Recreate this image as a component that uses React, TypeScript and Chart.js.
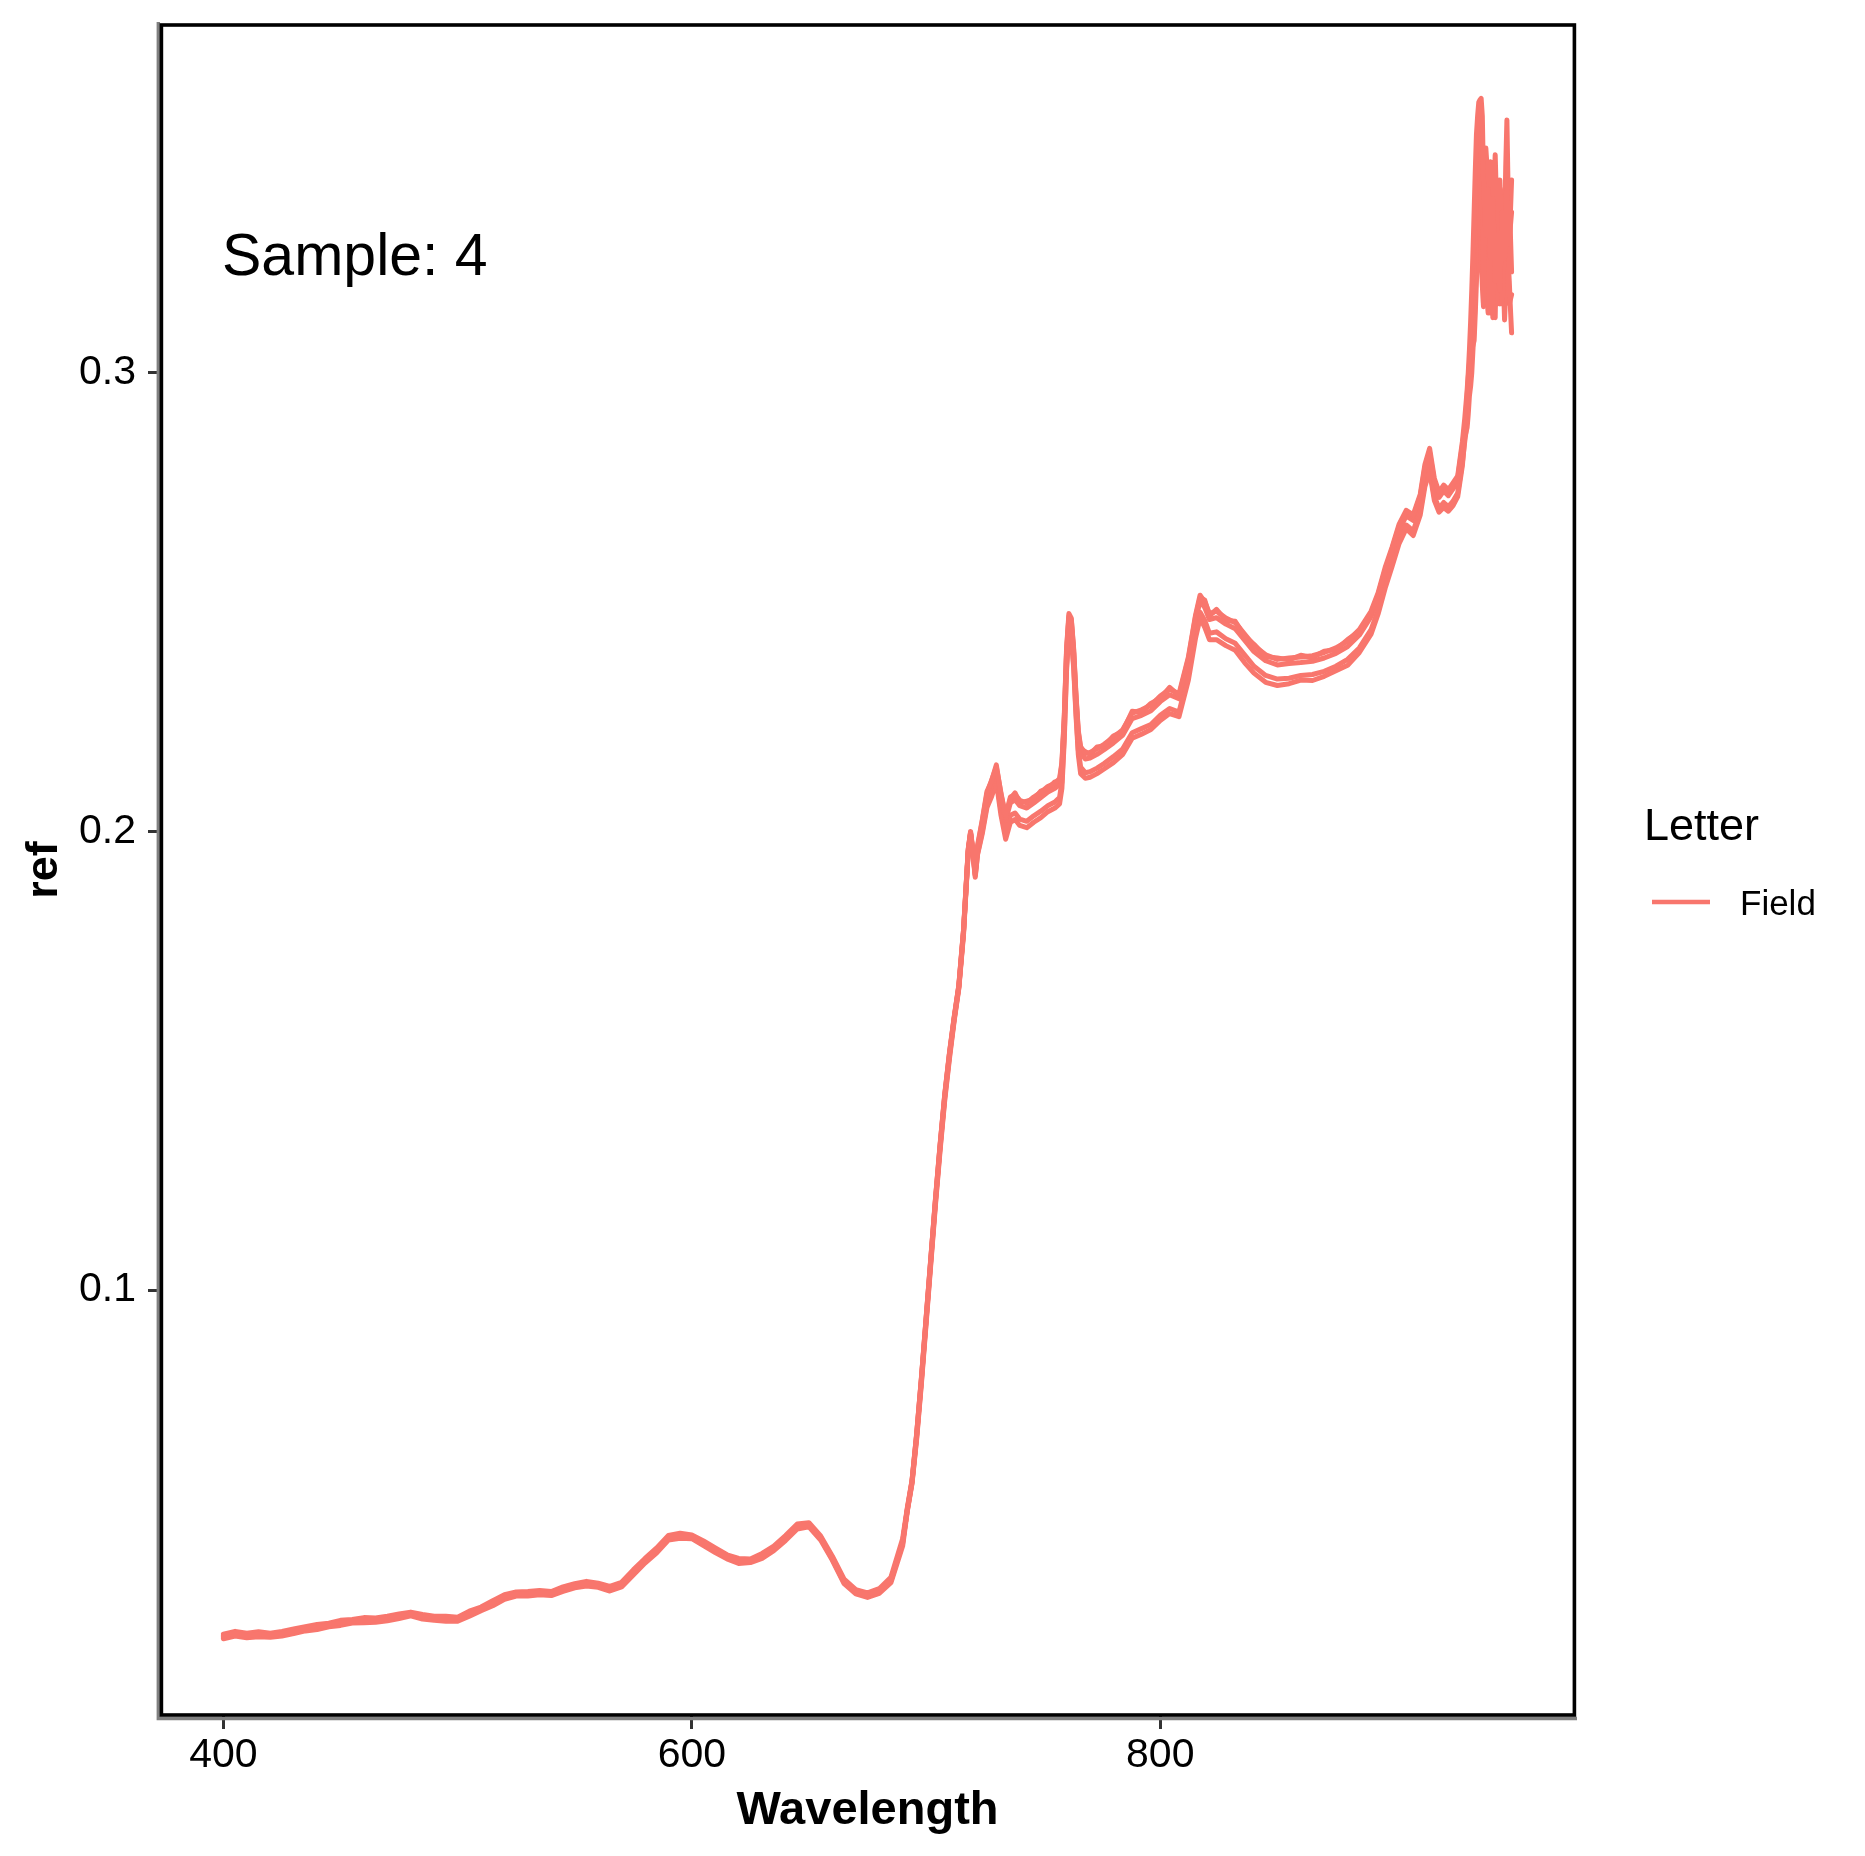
import React, { useEffect, useRef } from "react";
import { Chart, registerables } from "chart.js";

Chart.register(...registerables);

// ---------- data ----------
const wavelengths = [
  400, 405, 410, 415, 420, 425, 430, 435, 440, 445, 450, 455, 460, 465, 470, 475, 480, 485, 490, 495,
  500, 505, 510, 515, 520, 525, 530, 535, 540, 545, 550, 555, 560, 565, 570, 575, 580, 585, 590, 595,
  600, 605, 610, 615, 620, 625, 630, 635, 640, 645, 650, 655, 660, 665, 670, 675, 680, 685, 690,
  692, 694, 696, 698, 700, 702, 704, 706, 708, 710, 712, 714, 716, 718,
  719, 720, 721, 722,
  724, 726, 728, 730, 732, 734, 736, 738, 740,
  743, 746, 749, 752, 755,
  757, 758, 759, 760, 761, 762, 763, 764, 765, 766,
  768, 770,
  773, 776,
  780, 784, 788, 792, 796, 800, 804, 808, 812,
  815, 817, 819, 821,
  824, 828, 832, 836, 840,
  845, 850, 855, 860, 865, 870, 875, 880, 885, 890,
  893, 896, 899, 902, 905, 908, 911,
  913, 915, 917, 919, 921, 923, 925, 927, 929,
  930, 930.5, 931, 931.5, 932, 932.5, 933, 933.5, 934, 934.5, 935, 935.5, 936, 936.5, 937, 937.5, 938, 938.5, 939, 939.5,
  940, 940.5, 941, 941.5, 942, 942.5, 943, 943.5, 944, 944.5, 945, 945.5, 946, 946.5, 947, 947.5, 948, 948.5, 949, 949.5, 950,
];

const spectrum1 = [
  0.0245, 0.0252, 0.0246, 0.0250, 0.0247, 0.0251, 0.0257, 0.0261, 0.0266, 0.0270, 0.0275, 0.0278, 0.0281, 0.0280, 0.0284, 0.0290, 0.0294, 0.0288, 0.0284, 0.0284,
  0.0282, 0.0295, 0.0305, 0.0318, 0.0332, 0.0337, 0.0338, 0.0340, 0.0339, 0.0348, 0.0355, 0.0361, 0.0356, 0.0349, 0.0358, 0.0385, 0.0410, 0.0433, 0.0460, 0.0465,
  0.0462, 0.0448, 0.0433, 0.0418, 0.0410, 0.0410, 0.0421, 0.0437, 0.0460, 0.0485, 0.0488, 0.0460, 0.0415, 0.0365, 0.0342, 0.0335, 0.0344, 0.0368, 0.0450,
  0.0521, 0.0580, 0.0680, 0.0800, 0.0930, 0.1060, 0.1190, 0.1310, 0.1420, 0.1510, 0.1590, 0.1660, 0.1780, 0.1960,
  0.2000, 0.1960, 0.1910, 0.1970,
  0.2025, 0.2087, 0.2110, 0.2145, 0.2080, 0.2035, 0.2075, 0.2080, 0.2068,
  0.2062, 0.2075, 0.2085, 0.2098, 0.2105,
  0.2115, 0.2150, 0.2250, 0.2400, 0.2475, 0.2465, 0.2400, 0.2300, 0.2220, 0.2185,
  0.2170, 0.2172,
  0.2180, 0.2190,
  0.2205, 0.2222, 0.2258, 0.2265, 0.2275, 0.2295, 0.2310, 0.2300, 0.2380,
  0.2470, 0.2515, 0.2500, 0.2475,
  0.2480, 0.2465, 0.2455, 0.2430, 0.2405,
  0.2385, 0.2375, 0.2378, 0.2380, 0.2383, 0.2390, 0.2400, 0.2415, 0.2440, 0.2480,
  0.2520, 0.2575, 0.2620, 0.2670, 0.2700, 0.2690, 0.2735,
  0.2800, 0.2835, 0.2770, 0.2740, 0.2755, 0.2745, 0.2760, 0.2775, 0.2850,
  0.2900, 0.2930, 0.2960, 0.3000, 0.3050, 0.3110, 0.3180, 0.3260, 0.3350, 0.3440, 0.3520, 0.3560, 0.3590, 0.3595, 0.3598, 0.3560, 0.3420, 0.3360, 0.3300, 0.3380,
  0.3400, 0.3300, 0.3250, 0.3330, 0.3380, 0.3280, 0.3200, 0.3260, 0.3300, 0.3220, 0.3180, 0.3280, 0.3350, 0.3300, 0.3250, 0.3350, 0.3420, 0.3330, 0.3280, 0.3320, 0.3350,
];

const spectrum2 = [
  0.0240, 0.0246, 0.0242, 0.0244, 0.0243, 0.0246, 0.0251, 0.0257, 0.0260, 0.0266, 0.0269, 0.0274, 0.0275, 0.0276, 0.0279, 0.0284, 0.0290, 0.0283, 0.0280, 0.0278,
  0.0278, 0.0289, 0.0301, 0.0312, 0.0326, 0.0333, 0.0333, 0.0336, 0.0334, 0.0343, 0.0351, 0.0355, 0.0352, 0.0344, 0.0353, 0.0379, 0.0405, 0.0427, 0.0455, 0.0459,
  0.0458, 0.0443, 0.0428, 0.0414, 0.0404, 0.0406, 0.0415, 0.0432, 0.0454, 0.0479, 0.0484, 0.0455, 0.0411, 0.0360, 0.0338, 0.0330, 0.0339, 0.0362, 0.0442,
  0.0518, 0.0578, 0.0676, 0.0795, 0.0925, 0.1055, 0.1185, 0.1305, 0.1415, 0.1505, 0.1587, 0.1658, 0.1775, 0.1955,
  0.1995, 0.1958, 0.1913, 0.1966,
  0.2022, 0.2082, 0.2112, 0.2140, 0.2084, 0.2030, 0.2071, 0.2084, 0.2062,
  0.2066, 0.2070, 0.2088, 0.2093, 0.2108,
  0.2110, 0.2146, 0.2244, 0.2395, 0.2470, 0.2462, 0.2396, 0.2296, 0.2216, 0.2180,
  0.2174, 0.2168,
  0.2184, 0.2186,
  0.2208, 0.2218, 0.2262, 0.2260, 0.2279, 0.2290, 0.2314, 0.2296, 0.2376,
  0.2466, 0.2510, 0.2504, 0.2470,
  0.2484, 0.2460, 0.2458, 0.2426, 0.2408,
  0.2381, 0.2378, 0.2374, 0.2384, 0.2379, 0.2393, 0.2396, 0.2418, 0.2436, 0.2476,
  0.2516, 0.2570, 0.2616, 0.2666, 0.2696, 0.2686, 0.2730,
  0.2794, 0.2826, 0.2764, 0.2736, 0.2750, 0.2741, 0.2755, 0.2770, 0.2842,
  0.2880, 0.2900, 0.2920, 0.2960, 0.3000, 0.3050, 0.3100, 0.3180, 0.3250, 0.3330, 0.3400, 0.3460, 0.3500, 0.3540, 0.3560, 0.3400, 0.3150, 0.3300, 0.3490, 0.3450,
  0.3350, 0.3420, 0.3460, 0.3380, 0.3300, 0.3400, 0.3475, 0.3380, 0.3250, 0.3320, 0.3420, 0.3300, 0.3150, 0.3220, 0.3300, 0.3450, 0.3551, 0.3400, 0.3300, 0.3350, 0.3420,
];

const spectrum3 = [
  0.0250, 0.0256, 0.0252, 0.0255, 0.0252, 0.0256, 0.0261, 0.0266, 0.0271, 0.0274, 0.0280, 0.0282, 0.0286, 0.0285, 0.0289, 0.0294, 0.0298, 0.0293, 0.0289, 0.0289,
  0.0287, 0.0300, 0.0309, 0.0323, 0.0336, 0.0342, 0.0343, 0.0345, 0.0343, 0.0353, 0.0360, 0.0365, 0.0361, 0.0354, 0.0363, 0.0390, 0.0415, 0.0438, 0.0465, 0.0470,
  0.0466, 0.0453, 0.0438, 0.0423, 0.0415, 0.0414, 0.0426, 0.0442, 0.0465, 0.0490, 0.0493, 0.0464, 0.0420, 0.0370, 0.0347, 0.0340, 0.0349, 0.0374, 0.0458,
  0.0525, 0.0585, 0.0686, 0.0806, 0.0936, 0.1066, 0.1196, 0.1316, 0.1426, 0.1515, 0.1594, 0.1664, 0.1785, 0.1962,
  0.1998, 0.1955, 0.1906, 0.1962,
  0.2015, 0.2076, 0.2100, 0.2135, 0.2068, 0.2024, 0.2062, 0.2069, 0.2056,
  0.2051, 0.2062, 0.2074, 0.2086, 0.2094,
  0.2102, 0.2138, 0.2238, 0.2388, 0.2465, 0.2455, 0.2390, 0.2290, 0.2208, 0.2172,
  0.2158, 0.2160,
  0.2168, 0.2178,
  0.2193, 0.2210, 0.2246, 0.2253, 0.2263, 0.2283, 0.2298, 0.2289, 0.2368,
  0.2458, 0.2503, 0.2488, 0.2462,
  0.2466, 0.2452, 0.2442, 0.2417, 0.2392,
  0.2372, 0.2363, 0.2366, 0.2368, 0.2371, 0.2378, 0.2388, 0.2403, 0.2428, 0.2468,
  0.2508, 0.2563, 0.2608, 0.2657, 0.2688, 0.2678, 0.2722,
  0.2785, 0.2818, 0.2756, 0.2728, 0.2742, 0.2732, 0.2747, 0.2762, 0.2835,
  0.2870, 0.2910, 0.2950, 0.2990, 0.3020, 0.3050, 0.3080, 0.3110, 0.3150, 0.3220, 0.3300, 0.3380, 0.3450, 0.3380, 0.3300, 0.3340, 0.3380, 0.3290, 0.3200, 0.3160,
  0.3130, 0.3210, 0.3300, 0.3210, 0.3120, 0.3230, 0.3350, 0.3280, 0.3200, 0.3290, 0.3380, 0.3330, 0.3280, 0.3210, 0.3150, 0.3230, 0.3300, 0.3250, 0.3200, 0.3140, 0.3087,
];

const spectrum4 = [
  0.0246, 0.0250, 0.0249, 0.0249, 0.0249, 0.0252, 0.0256, 0.0263, 0.0266, 0.0271, 0.0275, 0.0279, 0.0282, 0.0281, 0.0285, 0.0289, 0.0295, 0.0289, 0.0285, 0.0286,
  0.0283, 0.0296, 0.0306, 0.0318, 0.0333, 0.0338, 0.0339, 0.0341, 0.0340, 0.0349, 0.0356, 0.0362, 0.0357, 0.0350, 0.0359, 0.0386, 0.0411, 0.0434, 0.0461, 0.0466,
  0.0463, 0.0449, 0.0434, 0.0419, 0.0411, 0.0411, 0.0422, 0.0438, 0.0461, 0.0486, 0.0490, 0.0461, 0.0416, 0.0366, 0.0343, 0.0336, 0.0345, 0.0369, 0.0452,
  0.0520, 0.0582, 0.0685, 0.0805, 0.0935, 0.1065, 0.1195, 0.1315, 0.1425, 0.1515, 0.1592, 0.1662, 0.1782, 0.1955,
  0.1995, 0.1950, 0.1900, 0.1952,
  0.2000, 0.2058, 0.2082, 0.2115, 0.2045, 0.1995, 0.2035, 0.2040, 0.2027,
  0.2022, 0.2034, 0.2044, 0.2056, 0.2064,
  0.2074, 0.2108, 0.2210, 0.2362, 0.2440, 0.2432, 0.2365, 0.2262, 0.2178, 0.2140,
  0.2128, 0.2130,
  0.2138, 0.2148,
  0.2163, 0.2180, 0.2215, 0.2224, 0.2233, 0.2253, 0.2268, 0.2260, 0.2340,
  0.2430, 0.2478, 0.2460, 0.2432,
  0.2435, 0.2420, 0.2410, 0.2385, 0.2360,
  0.2340, 0.2332, 0.2334, 0.2340, 0.2342, 0.2349, 0.2360, 0.2375, 0.2400, 0.2440,
  0.2482, 0.2538, 0.2585, 0.2635, 0.2668, 0.2655, 0.2700,
  0.2760, 0.2792, 0.2730, 0.2705, 0.2717, 0.2708, 0.2720, 0.2738, 0.2805,
  0.2850, 0.2870, 0.2900, 0.2940, 0.2980, 0.3010, 0.3050, 0.3060, 0.3070, 0.3130, 0.3200, 0.3280, 0.3350, 0.3300, 0.3250, 0.3190, 0.3144, 0.3250, 0.3350, 0.3280,
  0.3220, 0.3170, 0.3130, 0.3200, 0.3280, 0.3200, 0.3120, 0.3270, 0.3420, 0.3280, 0.3150, 0.3220, 0.3300, 0.3200, 0.3115, 0.3180, 0.3250, 0.3320, 0.3380, 0.3300, 0.3220,
];

const spectrum5 = [
  0.0243, 0.0251, 0.0244, 0.0248, 0.0245, 0.0250, 0.0255, 0.0259, 0.0264, 0.0268, 0.0273, 0.0276, 0.0279, 0.0278, 0.0282, 0.0288, 0.0292, 0.0286, 0.0282, 0.0282,
  0.0280, 0.0293, 0.0303, 0.0316, 0.0330, 0.0335, 0.0336, 0.0338, 0.0337, 0.0346, 0.0353, 0.0359, 0.0354, 0.0347, 0.0356, 0.0383, 0.0408, 0.0431, 0.0458, 0.0463,
  0.0460, 0.0446, 0.0431, 0.0416, 0.0408, 0.0408, 0.0419, 0.0435, 0.0458, 0.0483, 0.0486, 0.0458, 0.0413, 0.0363, 0.0340, 0.0333, 0.0342, 0.0366, 0.0448,
  0.0523, 0.0584, 0.0688, 0.0808, 0.0938, 0.1068, 0.1198, 0.1318, 0.1428, 0.1518, 0.1595, 0.1665, 0.1785, 0.1958,
  0.1997, 0.1952, 0.1904, 0.1950,
  0.1995, 0.2052, 0.2076, 0.2108, 0.2035, 0.1983, 0.2020, 0.2026, 0.2013,
  0.2008, 0.2020, 0.2030, 0.2043, 0.2051,
  0.2060, 0.2094, 0.2198, 0.2352, 0.2432, 0.2425, 0.2358, 0.2254, 0.2168, 0.2126,
  0.2116, 0.2118,
  0.2126, 0.2136,
  0.2150, 0.2168, 0.2203, 0.2212, 0.2222, 0.2242, 0.2257, 0.2250, 0.2330,
  0.2420, 0.2465, 0.2445, 0.2418,
  0.2418, 0.2405, 0.2395, 0.2368, 0.2345,
  0.2325, 0.2318, 0.2322, 0.2330, 0.2329, 0.2338, 0.2350, 0.2362, 0.2390, 0.2430,
  0.2474, 0.2530, 0.2578, 0.2628, 0.2660, 0.2645, 0.2690,
  0.2752, 0.2785, 0.2722, 0.2696, 0.2706, 0.2698, 0.2710, 0.2730, 0.2798,
  0.2860, 0.2870, 0.2880, 0.2910, 0.2950, 0.2970, 0.3000, 0.3050, 0.3100, 0.3170, 0.3250, 0.3320, 0.3380, 0.3390, 0.3400, 0.3330, 0.3250, 0.3200, 0.3150, 0.3220,
  0.3300, 0.3250, 0.3200, 0.3300, 0.3400, 0.3340, 0.3280, 0.3210, 0.3150, 0.3220, 0.3300, 0.3250, 0.3200, 0.3300, 0.3400, 0.3290, 0.3180, 0.3160, 0.3150, 0.3160, 0.3170,
];

const spectra = [spectrum1, spectrum2, spectrum3, spectrum4, spectrum5];

const xTicks = [400, 600, 800];
const yTicks = [0.1, 0.2, 0.3];
const xTitle = "Wavelength";
const yTitle = "ref";
const annotationText = "Sample: 4";
const legendTitle = "Letter";
const legendLabel = "Field";
const lineColor = "#F8766D";

const FONT = "'Liberation Sans', Arial, Helvetica, sans-serif";
const W = 1865;
const H = 1856;

const zeroPadding = (s: any) => {
  s.paddingTop = 0;
  s.paddingBottom = 0;
  s.paddingLeft = 0;
  s.paddingRight = 0;
};

const decorPlugin = {
  id: "decor",
  beforeDraw(chart: any) {
    const ctx = chart.ctx;
    ctx.save();
    ctx.fillStyle = "#ffffff";
    ctx.fillRect(0, 0, chart.width, chart.height);
    ctx.restore();
  },
  afterDraw(chart: any) {
    const ctx = chart.ctx;
    const a = chart.chartArea;
    ctx.save();
    // grey axis lines (left & bottom)
    ctx.strokeStyle = "#808080";
    ctx.lineWidth = 3.4;
    ctx.beginPath();
    ctx.moveTo(a.left - 0.7, a.top - 2);
    ctx.lineTo(a.left - 0.7, a.bottom + 2.5);
    ctx.lineTo(a.right + 1, a.bottom + 2.5);
    ctx.stroke();
    // black panel border
    ctx.strokeStyle = "#000000";
    ctx.lineWidth = 3.6;
    ctx.strokeRect(a.left + 2.4, a.top + 1, a.right - a.left - 4, a.bottom - a.top - 2);

    // axis titles
    ctx.fillStyle = "#000000";
    ctx.font = `bold 47px ${FONT}`;
    ctx.textAlign = "center";
    ctx.textBaseline = "middle";
    ctx.fillText(xTitle, (a.left + a.right) / 2, 1811);
    ctx.save();
    ctx.font = `bold 45px ${FONT}`;
    ctx.translate(45, (a.top + a.bottom) / 2);
    ctx.rotate(-Math.PI / 2);
    ctx.fillText(yTitle, 0, 0);
    ctx.restore();

    // annotation
    ctx.font = `59px ${FONT}`;
    ctx.textAlign = "left";
    ctx.textBaseline = "alphabetic";
    ctx.fillText(annotationText, 222, 275);

    // legend
    ctx.font = `45px ${FONT}`;
    ctx.fillText(legendTitle, 1644, 840);
    ctx.strokeStyle = lineColor;
    ctx.lineWidth = 4.5;
    ctx.beginPath();
    ctx.moveTo(1652, 902);
    ctx.lineTo(1710, 902);
    ctx.stroke();
    ctx.font = `35px ${FONT}`;
    ctx.fillText(legendLabel, 1740, 915);
    ctx.restore();
  },
};

export default function App() {
  const ref = useRef<HTMLCanvasElement | null>(null);

  useEffect(() => {
    if (!ref.current) return;
    const datasets = spectra.map((s, k) => ({
      label: `${legendLabel} ${k + 1}`,
      data: wavelengths.map((w, i) => ({ x: w, y: s[i] })),
      borderColor: lineColor,
      backgroundColor: lineColor,
      borderWidth: 5,
      pointRadius: 0,
      tension: 0,
      fill: false,
      borderJoinStyle: "round" as const,
      borderCapStyle: "round" as const,
    }));

    const chart = new Chart(ref.current, {
      type: "line",
      data: { datasets },
      options: {
        responsive: false,
        animation: false,
        devicePixelRatio: 1,
        layout: { autoPadding: false, padding: { left: 0, right: W - 1576, top: 24, bottom: 0 } },
        plugins: { legend: { display: false }, tooltip: { enabled: false } },
        scales: {
          x: {
            type: "linear",
            min: 372.5,
            max: 977.5,
            afterBuildTicks: (s: any) => {
              s.ticks = xTicks.map((v) => ({ value: v }));
            },
            afterFit: (s: any) => {
              s.height = H - 1716;
              zeroPadding(s);
            },
            border: { display: false },
            grid: {
              drawOnChartArea: false,
              drawTicks: true,
              tickLength: 13,
              tickWidth: 3,
              tickColor: "#333333",
              color: "#333333",
            },
            ticks: {
              color: "#000000",
              font: { family: FONT, size: 41 },
              padding: 2,
              maxRotation: 0,
              autoSkip: false,
              callback: (v: any) => String(v),
            },
          },
          y: {
            type: "linear",
            min: 0.00715,
            max: 0.37602,
            afterBuildTicks: (s: any) => {
              s.ticks = yTicks.map((v) => ({ value: v }));
            },
            afterFit: (s: any) => {
              s.width = 159;
              zeroPadding(s);
            },
            border: { display: false },
            grid: {
              drawOnChartArea: false,
              drawTicks: true,
              tickLength: 11,
              tickWidth: 3,
              tickColor: "#333333",
              color: "#333333",
            },
            ticks: {
              color: "#000000",
              font: { family: FONT, size: 41 },
              padding: 12,
              autoSkip: false,
              callback: (v: any) => Number(v).toFixed(1),
            },
          },
        },
      },
      plugins: [decorPlugin],
    });
    return () => chart.destroy();
  }, []);

  return (
    <div style={{ position: "absolute", left: 0, top: 0, width: W, height: H, background: "#fff" }}>
      <canvas ref={ref} width={W} height={H} style={{ width: W, height: H, display: "block" }} />
    </div>
  );
}
